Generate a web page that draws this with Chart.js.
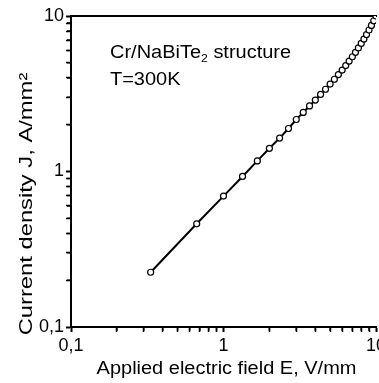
<!DOCTYPE html>
<html>
<head>
<meta charset="utf-8">
<script src="https://cdn.jsdelivr.net/npm/chart.js@4.4.1/dist/chart.umd.min.js"></script>
<style>
  html, body { margin: 0; padding: 0; background: #fff; }
  #clip { width: 379px; height: 383px; overflow: hidden; }
  #wrap { position: relative; width: 400px; height: 383px; }
</style>
</head>
<body>
<div id="clip"><div id="wrap"><canvas id="jeChart"></canvas></div></div>
<script>
// Applied field E (V/mm) and current density J (A/mm²)
const fieldE = [0.333, 0.667, 1, 1.333, 1.667, 2, 2.333, 2.667, 3, 3.333,
  3.667, 4, 4.333, 4.667, 5, 5.333, 5.667, 6, 6.333, 6.667,
  7, 7.333, 7.667, 8, 8.333, 8.667, 9, 9.333, 9.667, 10];
const currentJ = [0.225, 0.461, 0.695, 0.929, 1.17, 1.41, 1.64, 1.89, 2.16, 2.40,
  2.64, 2.88, 3.13, 3.38, 3.65, 3.92, 4.20, 4.49, 4.80, 5.13,
  5.47, 5.84, 6.23, 6.66, 7.11, 7.60, 8.13, 8.70, 9.32, 10.0];
const majorTicks = [0.1, 1, 10];
const tickText = ['0,1', '1', '10'];

const FONT = '"Liberation Sans", Arial, sans-serif';

function isMajor(v) {
  const l = Math.log10(v);
  return Math.abs(l - Math.round(l)) < 1e-6;
}
function isDigitTick(v) {
  const m = v / Math.pow(10, Math.floor(Math.log10(v) + 1e-9));
  return Math.abs(m - Math.round(m)) < 1e-6;
}
function labelFor(v) {
  const i = majorTicks.findIndex(m => Math.abs(m - v) < 1e-9 * Math.max(1, m));
  return i >= 0 ? tickText[i] : '';
}

// text drawn a little wider than the font, like the original figure
function wideText(ctx, str, x, y, sx) {
  ctx.save();
  ctx.translate(x, y);
  ctx.scale(sx, 1);
  ctx.fillText(str, 0, 0);
  ctx.restore();
  return ctx.measureText(str).width * sx;
}

// tick values as the log scales build them, kept before any skipping
const builtTicks = { x: [], y: [] };
const logTicks = s => {
  s.ticks = s.ticks.filter(t => isDigitTick(t.value));
  builtTicks[s.id] = s.ticks.map(t => t.value);
};

// minor tick marks (2..9 of each decade), placed with the scales themselves
const minorTicks = {
  id: 'minorTicks',
  afterDraw(chart) {
    const ctx = chart.ctx;
    const a = chart.chartArea;
    const xs = chart.scales.x, ys = chart.scales.y;
    ctx.save();
    ctx.strokeStyle = '#000';
    ctx.lineWidth = 1.5;
    ctx.beginPath();
    builtTicks.x.forEach(v => {
      if (isMajor(v)) return;
      const px = xs.getPixelForValue(v);
      ctx.moveTo(px, a.bottom);
      ctx.lineTo(px, a.bottom + 4);
    });
    builtTicks.y.forEach(v => {
      if (isMajor(v)) return;
      const py = ys.getPixelForValue(v);
      ctx.moveTo(a.left, py);
      ctx.lineTo(a.left - 4, py);
    });
    ctx.stroke();
    ctx.restore();
  }
};

const textPlugin = {
  id: 'textPlugin',
  afterDraw(chart) {
    const ctx = chart.ctx;
    const a = chart.chartArea;
    ctx.save();
    ctx.fillStyle = '#000';
    ctx.textBaseline = 'alphabetic';
    ctx.textAlign = 'left';

    // annotation
    const sx = 1.11;
    ctx.font = '18px ' + FONT;
    let x = 110;
    x += wideText(ctx, 'Cr/NaBiTe', x, 58, sx);
    ctx.font = '11px ' + FONT;
    x += wideText(ctx, '2', x, 62, sx);
    ctx.font = '18px ' + FONT;
    wideText(ctx, ' structure', x, 58, sx);
    wideText(ctx, 'T=300K', 110, 85, sx);

    // x axis title
    ctx.textAlign = 'center';
    ctx.textBaseline = 'middle';
    wideText(ctx, 'Applied electric field E, V/mm', (a.left + a.right) / 2 + 3, 369, sx);

    // y axis title
    ctx.translate(27, 204);
    ctx.rotate(-Math.PI / 2);
    ctx.font = '19px ' + FONT;
    wideText(ctx, 'Current density J, A/mm\u00B2', 0, 0, 1.25);
    ctx.restore();
  }
};

const points = fieldE.map((e, i) => ({ x: e, y: currentJ[i] }));

new Chart(document.getElementById('jeChart'), {
  type: 'scatter',
  data: {
    datasets: [{
      data: points,
      showLine: true,
      borderColor: '#000',
      borderWidth: 2,
      pointRadius: 3,
      pointBorderWidth: 1.2,
      pointBackgroundColor: '#fff',
      pointBorderColor: '#000',
      pointHoverRadius: 3
    }]
  },
  options: {
    responsive: true,
    maintainAspectRatio: false,
    animation: false,
    layout: { padding: { top: 16, right: 24, left: 0, bottom: 0 } },
    plugins: { legend: { display: false }, tooltip: { enabled: false } },
    scales: {
      x: {
        type: 'logarithmic',
        min: 0.1, max: 10,
        afterBuildTicks: logTicks,
        afterFit: s => { s.height = 56; },
        border: { display: true, color: '#000', width: 2 },
        grid: {
          drawOnChartArea: false, drawTicks: true, tickLength: 5,
          tickColor: '#000',
          tickWidth: c => isMajor(c.tick.value) ? 2 : 1.5
        },
        ticks: {
          autoSkip: false, maxRotation: 0, padding: 3,
          color: '#000', font: { family: FONT, size: 18 },
          callback: v => labelFor(v)
        }
      },
      xTop: {
        type: 'linear', position: 'top', min: 0, max: 1,
        afterFit: s => { s.height = 0; },
        border: { display: true, color: '#000', width: 2 },
        grid: { display: false },
        ticks: { display: false }
      },
      y: {
        type: 'logarithmic',
        min: 0.1, max: 10,
        afterBuildTicks: logTicks,
        afterFit: s => { s.width = 71; },
        border: { display: true, color: '#000', width: 2 },
        grid: {
          drawOnChartArea: false, drawTicks: true, tickLength: 5,
          tickColor: '#000',
          tickWidth: c => isMajor(c.tick.value) ? 2 : 1.5
        },
        ticks: {
          autoSkip: false, padding: 2,
          color: '#000', font: { family: FONT, size: 18 },
          callback: v => labelFor(v)
        }
      }
    }
  },
  plugins: [minorTicks, textPlugin]
});
</script>
</body>
</html>
